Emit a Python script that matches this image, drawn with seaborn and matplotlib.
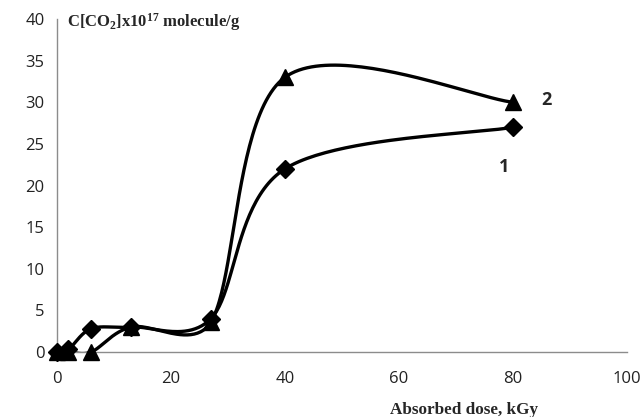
import numpy as np
import pandas as pd
import matplotlib
matplotlib.use("Agg")
import matplotlib.pyplot as plt
import seaborn as sns

dose = [0, 2, 6, 13, 27, 40, 80]
series1 = [0, 0.3, 2.8, 3.0, 4.0, 22.0, 27.0]
series2 = [0, 0, 0, 3.0, 3.6, 33.0, 30.0]
series_names = ["1", "2"]
x_ticks = [0, 20, 40, 60, 80, 100]
y_ticks = [0, 5, 10, 15, 20, 25, 30, 35, 40]


def smooth(xs, ys, kx, ky, cap=0.42, n=50):
    # Bezier smoothing (Excel-like), computed in screen-proportional space
    P = np.column_stack([np.asarray(xs, float) * kx, np.asarray(ys, float) * ky])
    out = []
    for i in range(len(P) - 1):
        p0 = P[i - 1] if i > 0 else P[i]
        p1 = P[i]
        p2 = P[i + 1]
        p3 = P[i + 2] if i + 2 < len(P) else P[i + 1]
        seglen = np.linalg.norm(p2 - p1)
        v1 = (p2 - p0) / 6.0
        v2 = (p3 - p1) / 6.0
        for v in (v1, v2):
            L = np.linalg.norm(v)
            if L > cap * seglen and L > 0:
                v *= cap * seglen / L
        c1 = p1 + v1
        c2 = p2 - v2
        t = np.linspace(0, 1, n)[:, None]
        seg = ((1 - t) ** 3) * p1 + 3 * ((1 - t) ** 2) * t * c1 + 3 * (1 - t) * t ** 2 * c2 + t ** 3 * p2
        out.append(seg if i == 0 else seg[1:])
    s = np.vstack(out)
    return s[:, 0] / kx, s[:, 1] / ky


sns.set_style("white")
plt.rcParams["mathtext.fontset"] = "custom"
plt.rcParams["mathtext.rm"] = "Liberation Serif:bold"
plt.rcParams["mathtext.it"] = "Liberation Serif:bold"
plt.rcParams["mathtext.bf"] = "Liberation Serif:bold"
plt.rcParams["mathtext.default"] = "regular"

fig = plt.figure(figsize=(6.44, 4.17), dpi=100)
ax = fig.add_axes([0.0885, 0.1559, 0.885, 0.7985])
kx = 570 / 100.0
ky = 333 / 40.0

for ys, mk, ms in [(series1, "D", 9), (series2, "^", 11)]:
    sx, sy = smooth(dose, ys, kx, ky)
    curve = pd.DataFrame({"x": sx, "y": sy})
    sns.lineplot(data=curve, x="x", y="y", ax=ax, color="black", lw=2.4, sort=False)
    pts = pd.DataFrame({"x": dose, "y": ys})
    ax.plot(pts["x"], pts["y"], ls="none", marker=mk, ms=ms, color="black", zorder=5, clip_on=False)

ax.set_xlim(0, 100)
ax.set_ylim(0, 40)
ax.set_xticks(x_ticks)
ax.set_yticks(y_ticks)
ax.set_xlabel("")
ax.set_ylabel("")
for s in ["top", "right"]:
    ax.spines[s].set_visible(False)
for s in ["left", "bottom"]:
    ax.spines[s].set_color("#8c8c8c")
    ax.spines[s].set_linewidth(1.0)
ax.tick_params(axis="both", which="major", length=5, width=1, color="#8c8c8c",
               labelsize=12, labelcolor="#222222", direction="out", pad=4)
ax.tick_params(axis="x", pad=9)
for lab in ax.get_xticklabels() + ax.get_yticklabels():
    lab.set_fontfamily("Open Sans")

fig.text(0.104, 0.935, r"C[CO$_2$]x10$^{17}$ molecule/g", fontsize=12,
         fontweight="bold", family="Liberation Serif", ha="left", va="baseline")
fig.text(0.605, 0.017, "Absorbed dose, kGy", fontsize=12.3,
         fontweight="bold", family="Liberation Serif", ha="left", va="center")
ax.text(78.5, 22.2, series_names[0], fontsize=13, fontweight="bold", ha="center", va="center",
        family="Open Sans")
ax.text(85.8, 30.3, series_names[1], fontsize=13, fontweight="bold", ha="center", va="center",
        family="Open Sans")

fig.savefig("out.png", dpi=100)
